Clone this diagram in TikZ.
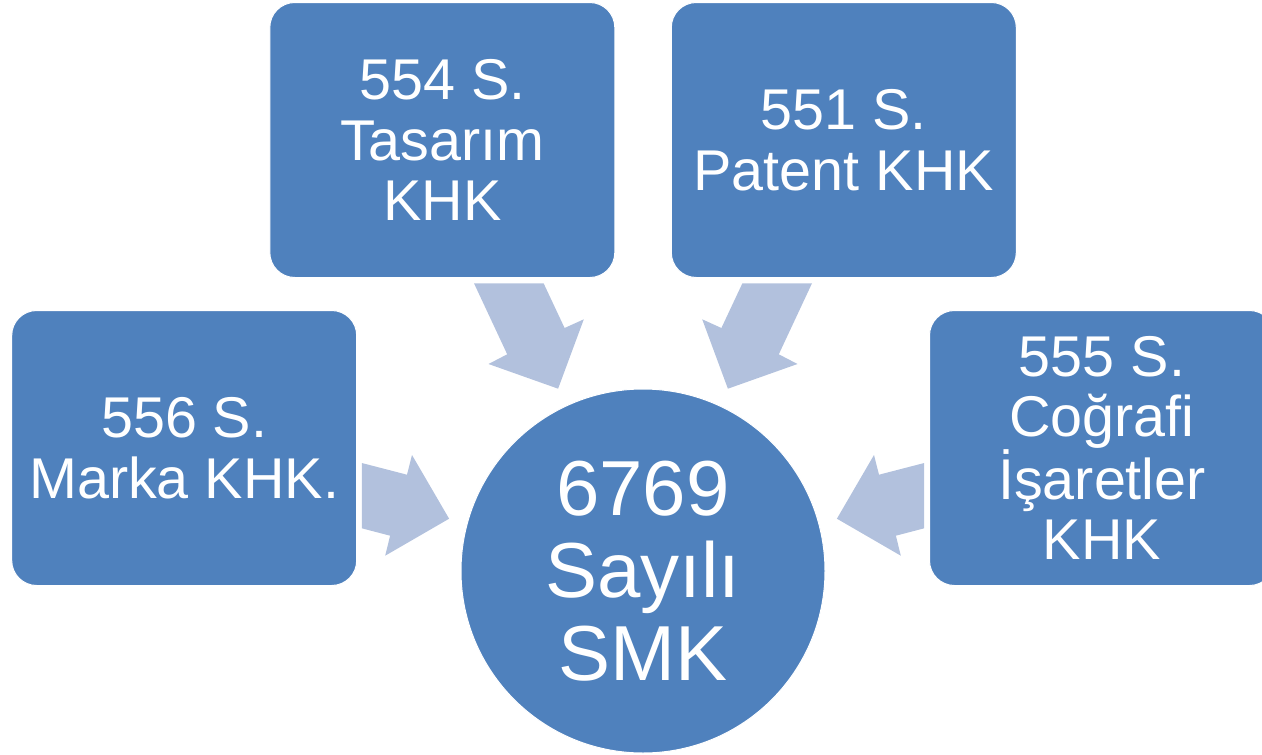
\documentclass[tikz,border=0pt]{standalone}
\usepackage{fontspec}
\setmainfont{Liberation Sans}
\definecolor{kutumavi}{RGB}{79,129,189}
\definecolor{oklavanta}{RGB}{178,193,221}
\tikzset{
  kutu/.style={rectangle, rounded corners=25pt, fill=kutumavi, draw=white, line width=1pt, text=white,
    align=center, inner sep=0pt, minimum width=345pt, minimum height=275pt,
    font=\fontsize{57.5}{60.5}\selectfont},
  merkez/.style={circle, fill=kutumavi, draw=white, line width=1pt, text=white, align=center,
    inner sep=0pt, minimum size=364pt, font=\fontsize{78}{82.5}\selectfont},
  blokok/.style={fill=oklavanta, draw=none}
}
\begin{document}
\begin{tikzpicture}[x=1pt,y=-1pt]
    \useasboundingbox (0,0) rectangle (1262,755);
    \node[kutu] (tasarim) at (442.3,140) {554 S.\\Tasarım\\KHK};
    \node[kutu] (patent) at (843.8,140) {551 S.\\Patent KHK};
    \node[kutu] (marka) at (184.2,448) {556 S.\\Marka KHK.};
    \node[kutu] (cografi) at (1102,448) {555 S.\\Coğrafi\\İşaretler\\KHK};
    \node[merkez] (smk) at (643,571) {6769\\Sayılı\\SMK};
    % block arrows into the circle
    \fill[blokok] (361.8,463) -- (407,474.7) -- (412,455) -- (449.1,518.7) -- (385.2,555.7) -- (390.1,535.7) -- (361.8,528.3) -- cycle;
    \fill[blokok] (924.2,463) -- (879,474.7) -- (874,455) -- (836.9,518.7) -- (900.8,555.7) -- (895.9,535.7) -- (924.2,528.3) -- cycle;
    \fill[blokok] (474,283.3) -- (543.6,283.3) -- (564.6,328) -- (583.8,319.3) -- (558.1,388.7) -- (488.5,364) -- (507.2,354.3) -- cycle;
    \fill[blokok] (812,283.3) -- (742.4,283.3) -- (721.4,328) -- (702.2,319.3) -- (727.9,388.7) -- (797.5,364) -- (778.8,354.3) -- cycle;
\end{tikzpicture}
\end{document}
